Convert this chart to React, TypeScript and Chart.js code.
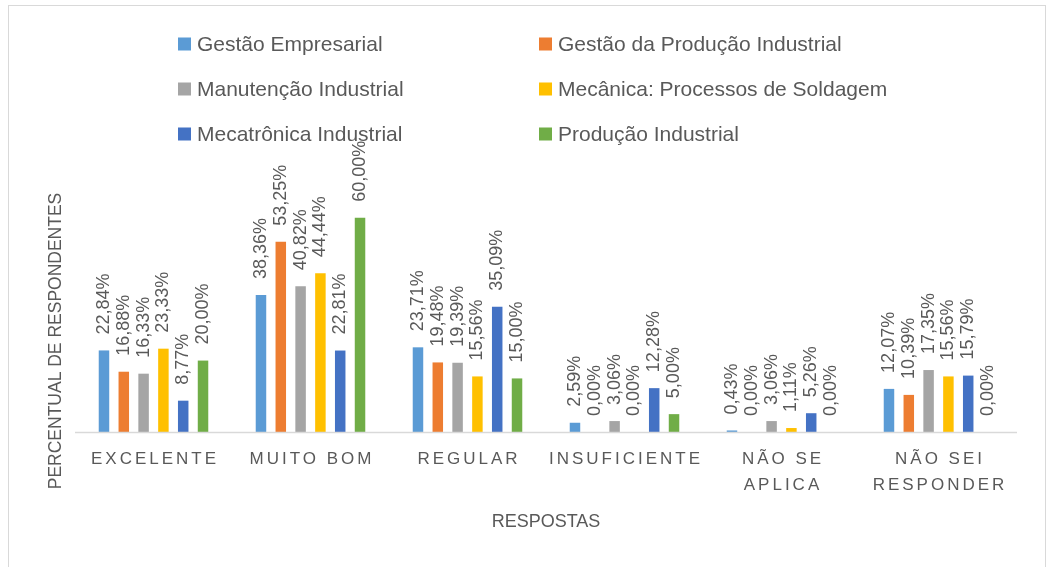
import React, { useEffect, useRef } from "react";
import { Chart, registerables } from "chart.js";

Chart.register(...registerables);

const categories: string[][] = [
  ["EXCELENTE"],
  ["MUITO BOM"],
  ["REGULAR"],
  ["INSUFICIENTE"],
  ["NÃO SE", "APLICA"],
  ["NÃO SEI", "RESPONDER"],
];

const seriesNames = [
  "Gestão Empresarial",
  "Gestão da Produção Industrial",
  "Manutenção Industrial",
  "Mecânica: Processos de Soldagem",
  "Mecatrônica Industrial",
  "Produção Industrial",
];

const gestaoEmpresarial = [22.84, 38.36, 23.71, 2.59, 0.43, 12.07];
const gestaoProducao = [16.88, 53.25, 19.48, 0.0, 0.0, 10.39];
const manutencao = [16.33, 40.82, 19.39, 3.06, 3.06, 17.35];
const mecanica = [23.33, 44.44, 15.56, 0.0, 1.11, 15.56];
const mecatronica = [8.77, 22.81, 35.09, 12.28, 5.26, 15.79];
const producao = [20.0, 60.0, 15.0, 5.0, 0.0, 0.0];

const seriesValues = [gestaoEmpresarial, gestaoProducao, manutencao, mecanica, mecatronica, producao];
const colors = ["#5B9BD5", "#ED7D31", "#A5A5A5", "#FFC000", "#4472C4", "#70AD47"];

const TEXT = "#595959";
const FONT = "'Liberation Sans', Arial, sans-serif";

const decorPlugin = {
  id: "decor",
  beforeDraw(chart: any) {
    const ctx = chart.ctx;
    ctx.save();
    ctx.fillStyle = "#ffffff";
    ctx.fillRect(0, 0, chart.width, chart.height);
    ctx.strokeStyle = "#D9D9D9";
    ctx.lineWidth = 1;
    ctx.strokeRect(8.5, 5.5, 1037, 600);
    ctx.restore();
  },
  afterDatasetsDraw(chart: any) {
    const ctx = chart.ctx;
    const area = chart.chartArea;
    const xs = chart.scales.x;
    ctx.save();
    // axis line
    ctx.strokeStyle = "#D9D9D9";
    ctx.lineWidth = 1.5;
    ctx.beginPath();
    ctx.moveTo(area.left, area.bottom + 0.5);
    ctx.lineTo(area.right, area.bottom + 0.5);
    ctx.stroke();

    // data labels
    ctx.fillStyle = TEXT;
    ctx.font = `18px ${FONT}`;
    ctx.textAlign = "left";
    ctx.textBaseline = "middle";
    chart.data.datasets.forEach((ds: any, di: number) => {
      const meta = chart.getDatasetMeta(di);
      meta.data.forEach((bar: any, i: number) => {
        const v = ds.data[i] as number;
        const txt = v.toFixed(2).replace(".", ",") + "%";
        ctx.save();
        ctx.translate(bar.x, bar.y - 16);
        ctx.rotate(-Math.PI / 2);
        ctx.fillText(txt, 0, 0);
        ctx.restore();
      });
    });

    // category labels
    ctx.font = `17px ${FONT}`;
    (ctx as any).letterSpacing = "3px";
    ctx.textAlign = "center";
    categories.forEach((lines, i) => {
      const x = xs.getPixelForValue(i);
      lines.forEach((ln, k) => {
        ctx.fillText(ln, x + 1.5, area.bottom + 27 + k * 26);
      });
    });
    (ctx as any).letterSpacing = "0px";

    // axis titles
    ctx.font = `18px ${FONT}`;
    ctx.fillText("RESPOSTAS", (area.left + area.right) / 2, 522);
    ctx.save();
    ctx.font = `17.5px ${FONT}`;
    ctx.translate(56, 341);
    ctx.rotate(-Math.PI / 2);
    ctx.fillText("PERCENTUAL DE RESPONDENTES", 0, 0);
    ctx.restore();

    // legend
    const colX = [178, 539];
    const rowY = [44, 89, 134];
    ctx.font = `21px ${FONT}`;
    ctx.textAlign = "left";
    chart.data.datasets.forEach((ds: any, di: number) => {
      const x = colX[di % 2];
      const y = rowY[Math.floor(di / 2)];
      ctx.fillStyle = ds.backgroundColor;
      ctx.fillRect(x, y - 6.5, 13, 13);
      ctx.fillStyle = TEXT;
      ctx.fillText(ds.label, x + 19, y + 1);
    });
    ctx.restore();
  },
};

export default function App() {
  const ref = useRef<HTMLCanvasElement | null>(null);
  useEffect(() => {
    document.body.style.margin = "0";
    if (!ref.current) return;
    const chart = new Chart(ref.current, {
      type: "bar",
      data: {
        labels: categories.map((c) => c.join(" ")),
        datasets: seriesValues.map((vals, i) => ({
          label: seriesNames[i],
          data: vals,
          backgroundColor: colors[i],
          borderWidth: 0,
          categoryPercentage: 0.757,
          barPercentage: 0.53,
        })),
      },
      options: {
        animation: false,
        responsive: false,
        maintainAspectRatio: false,
        layout: { padding: { left: 75, right: 43, top: 182, bottom: 135 } },
        plugins: { legend: { display: false }, tooltip: { enabled: false } },
        scales: {
          x: { display: false },
          y: { display: false, min: 0, max: 70 },
        },
      },
      plugins: [decorPlugin],
    });
    return () => chart.destroy();
  }, []);
  return <canvas ref={ref} width={1060} height={567} style={{ display: "block" }} />;
}
